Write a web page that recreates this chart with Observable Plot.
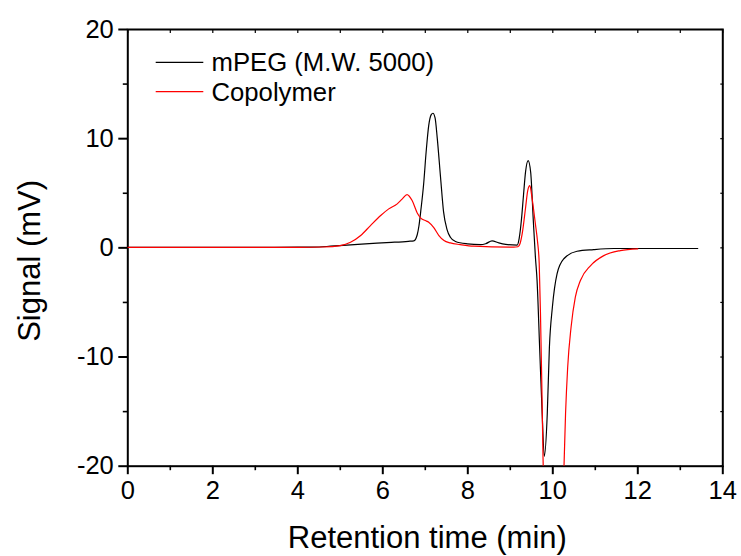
<!DOCTYPE html>
<html><head><meta charset="utf-8">
<script src="https://cdn.jsdelivr.net/npm/d3@7"></script>
<script src="https://cdn.jsdelivr.net/npm/@observablehq/plot@0.6"></script>
<style>body{margin:0;background:#fff} #chart{width:741px;height:556px}</style>
</head><body><div id="chart"></div>
<script>
// Series
const series = ["mPEG (M.W. 5000)", "Copolymer"];
const colors = ["#000000", "#ff0000"];

// mPEG (M.W. 5000) trace
const mpegTime = [0, 1, 2, 3, 4, 4.5, 4.77, 5.5, 6.2, 6.6, 6.73, 6.81, 6.85, 6.90, 6.96, 7.02, 7.08, 7.14, 7.18, 7.23, 7.28, 7.36, 7.43, 7.51, 7.59, 7.71, 7.99, 8.30, 8.42, 8.57, 8.73, 8.89, 9.16, 9.21, 9.26, 9.31, 9.36, 9.42, 9.48, 9.54, 9.59, 9.63, 9.69, 9.75, 9.80, 9.87, 9.92, 9.99, 10.10, 10.26, 10.57, 10.96, 11.44, 12.2, 13.41];
const mpegSignal = [0.05, 0.05, 0.05, 0.05, 0.06, 0.08, 0.15, 0.35, 0.5, 0.6, 0.64, 1.2, 2.0, 3.6, 5.8, 8.8, 11.2, 12.2, 12.33, 11.9, 10.1, 6.4, 3.3, 1.7, 0.97, 0.58, 0.37, 0.3, 0.38, 0.64, 0.45, 0.32, 0.25, 0.9, 2.5, 4.8, 7.0, 7.99, 6.9, 2.6, -0.8, -3.0, -9.1, -15.2, -19.1, -15.2, -9.1, -5.44, -2.38, -1.0, -0.31, -0.16, -0.06, -0.06, -0.06];

// Copolymer trace
const copoTime = [0, 1, 2, 3, 4, 4.6, 5.0, 5.24, 5.48, 5.71, 5.95, 6.14, 6.34, 6.46, 6.57, 6.69, 6.81, 6.90, 7.0, 7.08, 7.20, 7.32, 7.44, 7.59, 7.82, 8.14, 9.08, 9.18, 9.23, 9.28, 9.36, 9.41, 9.46, 9.51, 9.59, 9.64, 9.68, 9.71, 9.74, 9.77, 9.83, 9.9, 10.0, 10.1, 10.2, 10.26, 10.30, 10.35, 10.43, 10.53, 10.65, 10.89, 11.20, 11.59, 12.0];
const copoSignal = [0.05, 0.05, 0.05, 0.05, 0.05, 0.08, 0.21, 0.51, 1.13, 2.04, 2.96, 3.57, 4.03, 4.49, 4.88, 4.33, 3.2, 2.7, 2.5, 2.35, 1.85, 1.13, 0.67, 0.45, 0.3, 0.15, 0.06, 0.1, 0.4, 1.3, 3.7, 5.25, 5.7, 4.6, 2.2, 0.6, -1.4, -6.04, -12.15, -19.2, -25, -30, -32, -31, -27, -20.5, -15.2, -10.93, -7.27, -4.52, -2.99, -1.62, -0.71, -0.25, -0.09];

// Ticks
const xMajor = [0, 2, 4, 6, 8, 10, 12, 14];
const xMinor = [1, 3, 5, 7, 9, 11, 13];
const xAll = d3.range(0, 15, 1);
const yMajor = [-20, -10, 0, 10, 20];
const yMinor = [-15, -5, 5, 15];
const yAll = d3.range(-20, 21, 5);
const xTitle = "Retention time (min)";
const yTitle = "Signal (mV)";

const mpegRows = mpegTime.map((t, i) => ({t, v: mpegSignal[i]}));
const copoRows = copoTime.map((t, i) => ({t, v: copoSignal[i]}));

const chart = Plot.plot({
  width: 741, height: 556,
  marginLeft: 127.3, marginRight: 18.7, marginTop: 29, marginBottom: 90.3,
  style: {fontFamily: "'Liberation Sans', Arial, sans-serif", fontSize: "25px", background: "#fff", color: "#000"},
  x: {domain: [0, 14]},
  y: {domain: [-20, 20]},
  marks: [
    Plot.axisX({ticks: xMajor, tickSize: 8.5, tickPadding: 6, tickFormat: d => String(d), strokeWidth: 2, label: null, fontSize: 25.5}),
    Plot.axisX({ticks: xMinor, tickSize: 4.5, tickFormat: () => "", strokeWidth: 1.6, label: null}),
    Plot.axisX({anchor: "top", ticks: xAll, tickSize: -3, tickFormat: () => "", strokeWidth: 1.2, label: null}),
    Plot.axisY({ticks: yMajor, tickSize: 9, tickPadding: 5, tickFormat: d => String(d), strokeWidth: 2, label: null, fontSize: 25.5}),
    Plot.axisY({ticks: yMinor, tickSize: 4.5, tickFormat: () => "", strokeWidth: 1.6, label: null}),
    Plot.axisY({anchor: "right", ticks: yAll, tickSize: -3, tickFormat: () => "", strokeWidth: 1.2, label: null}),
    Plot.frame({strokeWidth: 2}),
    Plot.line(mpegRows, {x: "t", y: "v", stroke: colors[0], strokeWidth: 1.2, curve: "monotone-x", clip: true}),
    Plot.line(copoRows, {x: "t", y: "v", stroke: colors[1], strokeWidth: 1.2, curve: "monotone-x", clip: true}),
    Plot.text([xTitle], {frameAnchor: "bottom", dx: 2, dy: 72, textAnchor: "middle", lineAnchor: "middle", fontSize: 31}),
    Plot.text([yTitle], {frameAnchor: "left", dx: -98, dy: 13, rotate: -90, textAnchor: "middle", lineAnchor: "middle", fontSize: 31}),
    Plot.text([series[0]], {frameAnchor: "top-left", dx: 83.7, dy: 33, textAnchor: "start", lineAnchor: "middle", fontSize: 25.7}),
    Plot.text([series[1]], {frameAnchor: "top-left", dx: 83.7, dy: 63, textAnchor: "start", lineAnchor: "middle", fontSize: 25.7})
  ]
});
document.getElementById("chart").appendChild(chart);
// legend swatches
const svg = d3.select(chart);
[[62.3, colors[0]], [91.7, colors[1]]].forEach(([y, c]) => {
  svg.append("line").attr("x1", 155.7).attr("x2", 203.3).attr("y1", y).attr("y2", y)
    .attr("stroke", c).attr("stroke-width", 1.2);
});
</script></body></html>
